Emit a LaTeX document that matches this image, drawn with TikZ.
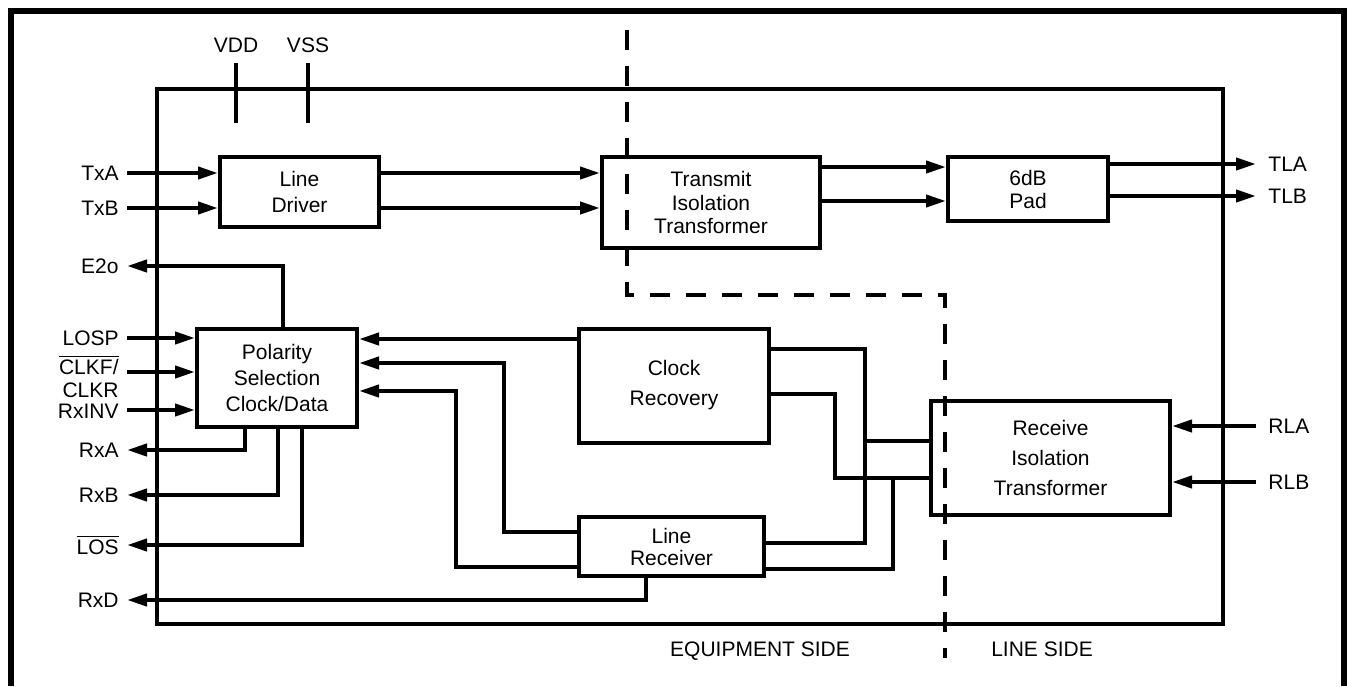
\documentclass[tikz,border=0pt]{standalone}
\usepackage{fontspec}
\setmainfont{Liberation Sans}
\usetikzlibrary{arrows.meta}

\begin{document}
\begin{tikzpicture}[x=0.5pt,y=-0.5pt,
  font=\fontsize{10.5}{12}\selectfont,
  blk/.style={draw, line width=2pt, align=center, inner sep=0pt},
  wire/.style={line width=2pt},
  sig/.style={wire, -{Triangle[length=10pt,width=6pt]}},
  lpin/.style={anchor=east, inner xsep=4pt, inner ysep=0pt, align=right},
  rpin/.style={anchor=west, inner xsep=6pt, inner ysep=0pt}]
\useasboundingbox (0,0) rectangle (1347,686);

% frame and device outline
\draw[line width=3pt] (11,686) -- (11,11) -- (1344,11) -- (1344,686);
\draw[wire] (157,89) rectangle (1223,624);

% supply pins
\node (vdd) at (236,45) {VDD};
\node (vss) at (308,45) {VSS};
\draw[wire] (vdd.south |- 0,63) -- (vdd.south |- 0,123);
\draw[wire] (vss.south |- 0,63) -- (vss.south |- 0,123);

% blocks
\node[blk, minimum width=79.5pt, minimum height=35pt, font=\fontsize{10.5}{13}\selectfont] (drv) at (299.5,192) {Line\\Driver};
\node[blk, minimum width=109pt, minimum height=45.5pt, font=\fontsize{10.5}{11.75}\selectfont] (xfmr) at (711,202.5) {Transmit\\Isolation\\Transformer};
\node[blk, minimum width=80pt, minimum height=32pt, font=\fontsize{10.5}{11.5}\selectfont] (pad) at (1028,189) {6dB\\Pad};
\node[blk, minimum width=80pt, minimum height=49pt, font=\fontsize{10.5}{13}\selectfont] (pol) at (277,378) {Polarity\\Selection\\Clock/Data};
\node[blk, minimum width=95pt, minimum height=57pt, font=\fontsize{10.5}{15}\selectfont] (crec) at (674,385.5) {Clock\\Recovery};
\node[blk, minimum width=92.5pt, minimum height=29.5pt, font=\fontsize{10.5}{11}\selectfont] (lrx) at (671.5,546.5) {Line\\Receiver};
\node[blk, minimum width=119.5pt, minimum height=57.25pt, font=\fontsize{10.5}{15}\selectfont] (rxfmr) at (1050.5,457.75) {Receive\\Isolation\\Transformer};

% pins, left side
\node[lpin] (txa) at (127,173) {TxA};
\node[lpin] (txb) at (127,208) {TxB};
\node[lpin] (e2o) at (127,266) {E2o};
\node[lpin] (losp) at (127,338) {LOSP};
\node[lpin, font=\fontsize{10.5}{11.5}\selectfont] (clk) at (127,376) {$\overline{\mbox{CLKF/}}$\\CLKR};
\node[lpin] (rxinv) at (127,411) {RxINV};
\node[lpin] (rxa) at (127,450) {RxA};
\node[lpin] (rxb) at (127,495) {RxB};
\node[lpin] (los) at (127,545) {$\overline{\mbox{LOS}}$};
\node[lpin] (rxd) at (127,600) {RxD};

% pins, right side
\node[rpin] (tla) at (1256,164) {TLA};
\node[rpin] (tlb) at (1256,196) {TLB};
\node[rpin] (rla) at (1256,426) {RLA};
\node[rpin] (rlb) at (1256,482) {RLB};

% transmit path
\draw[sig] (txa.east) -- (drv.west |- txa.east);
\draw[sig] (txb.east) -- (drv.west |- txb.east);
\draw[sig] (drv.east |- txa.east) -- (xfmr.west |- txa.east);
\draw[sig] (drv.east |- txb.east) -- (xfmr.west |- txb.east);
\draw[sig] (xfmr.east |- 0,167) -- (pad.west |- 0,167);
\draw[sig] (xfmr.east |- 0,201) -- (pad.west |- 0,201);
\draw[sig] (pad.east |- tla.west) -- (tla.west);
\draw[sig] (pad.east |- tlb.west) -- (tlb.west);

% receive path
\draw[sig] (rla.west) -- (rxfmr.east |- rla.west);
\draw[sig] (rlb.west) -- (rxfmr.east |- rlb.west);
\coordinate (jct) at (865,441);
\coordinate (tap) at (893,478);
\draw[wire] (crec.east |- 0,349) -| (865,543) -- (lrx.east |- 0,543);
\draw[wire] (rxfmr.west |- jct) -- (jct);
\draw[wire] (crec.east |- 0,394) -| (835,478) -- (rxfmr.west |- tap);
\draw[wire] (tap) |- (lrx.east |- 0,569);

\draw[sig] (crec.west |- 0,339) -- (pol.east |- 0,339);
\draw[sig] (lrx.west |- 0,532) -| (504,363) -- (pol.east |- 0,363);
\draw[sig] (lrx.west |- 0,567) -| (456,391) -- (pol.east |- 0,391);
\draw[sig] (lrx.south -| 646,0) |- (rxd.east);

% polarity selection in/out
\draw[sig] (losp.east) -- (pol.west |- losp.east);
\draw[sig] (clk.east |- 0,372) -- (pol.west |- 0,372);
\draw[sig] (rxinv.east |- 0,410) -- (pol.west |- 0,410);
\draw[sig] (pol.north -| 283,0) |- (e2o.east);
\draw[sig] (pol.south -| 245,0) |- (rxa.east);
\draw[sig] (pol.south -| 278,0) |- (rxb.east);
\draw[sig] (pol.south -| 302,0) |- (los.east);

% isolation boundary
\draw[line width=2pt, dash pattern=on 10pt off 8pt] (627,30) -- (627,295) -- (945,295) -- (945,658);
\node (eqside) at (760,651) {EQUIPMENT SIDE};
\node (lnside) at (1042,649) {LINE SIDE};
\end{tikzpicture}
\end{document}
